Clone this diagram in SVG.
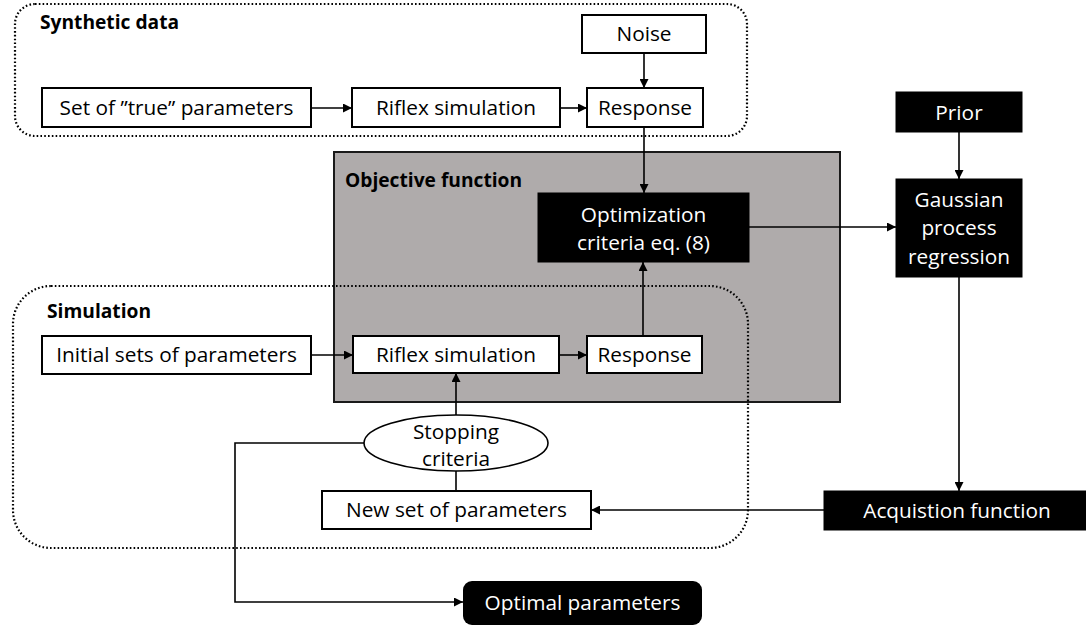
<svg xmlns="http://www.w3.org/2000/svg" width="1086" height="628" viewBox="0 0 1086 628">
  <defs>
    <marker id="arrow" viewBox="0 0 10 10" refX="10" refY="5" markerWidth="9" markerHeight="9" markerUnits="userSpaceOnUse" orient="auto">
      <path d="M0,0 L10,5 L0,10 z" fill="#000"/>
    </marker>
    <style>
      .txt { font-family: "Open Sans", "Liberation Sans", sans-serif; font-size: 20.8px; fill: #000; text-anchor: middle; }
      .inv { fill: #fff; }
      .title { font-family: "Open Sans", "Liberation Sans", sans-serif; font-size: 19.2px; font-weight: bold; fill: #000; }
      .box { fill: #fff; stroke: #000; stroke-width: 2; }
      .dark { fill: #000; stroke: #000; stroke-width: 1; }
      .group { fill: none; stroke: #000; stroke-width: 2.2; stroke-dasharray: 1.6 2.2; }
      .link { fill: none; stroke: #000; stroke-width: 1.6; }
      .arr { marker-end: url(#arrow); }
    </style>
  </defs>

  <rect width="1086" height="628" fill="#fff"/>

  <!-- objective function container -->
  <g id="objective-function">
    <rect x="334" y="152" width="506" height="250" fill="#AFABAB" stroke="#1a1a1a" stroke-width="2"/>
    <text class="title" x="345" y="187">Objective function</text>
  </g>

  <!-- dotted grouping frames -->
  <g id="synthetic-data">
    <rect class="group" x="15" y="4" width="732" height="132" rx="20" ry="20"/>
    <text class="title" x="40" y="29">Synthetic data</text>
  </g>
  <g id="simulation">
    <rect class="group" x="13" y="286" width="735" height="262" rx="38" ry="38"/>
    <text class="title" x="47" y="318">Simulation</text>
  </g>

  <!-- connectors -->
  <g id="connectors">
    <line class="link arr" x1="311" y1="108" x2="352" y2="108"/>
    <line class="link arr" x1="560" y1="108" x2="587" y2="108"/>
    <line class="link arr" x1="644" y1="53" x2="644" y2="88"/>
    <line class="link arr" x1="644" y1="127" x2="644" y2="193"/>
    <line class="link arr" x1="749" y1="227" x2="896" y2="227"/>
    <line class="link arr" x1="959" y1="132" x2="959" y2="179"/>
    <line class="link arr" x1="959" y1="277" x2="959" y2="491"/>
    <line class="link arr" x1="824" y1="510" x2="591" y2="510"/>
    <line class="link arr" x1="311" y1="355" x2="353" y2="355"/>
    <line class="link arr" x1="559" y1="355" x2="587" y2="355"/>
    <line class="link arr" x1="643" y1="336" x2="643" y2="262"/>
    <line class="link arr" x1="456" y1="415" x2="456" y2="373"/>
    <line class="link" x1="456" y1="471" x2="456" y2="491"/>
    <polyline class="link arr" points="364,443 235,443 235,602 463,602"/>
  </g>

  <!-- synthetic data chain -->
  <g id="true-parameters">
    <rect class="box" x="42" y="88" width="269" height="39"/>
    <text class="txt" x="176.5" y="115">Set of ”true” parameters</text>
  </g>
  <g id="riflex-synthetic">
    <rect class="box" x="352" y="88" width="208" height="39"/>
    <text class="txt" x="456" y="115">Riflex simulation</text>
  </g>
  <g id="noise">
    <rect class="box" x="582" y="15" width="124" height="38"/>
    <text class="txt" x="644" y="41">Noise</text>
  </g>
  <g id="response-synthetic">
    <rect class="box" x="587" y="88" width="116" height="39"/>
    <text class="txt" x="645" y="115">Response</text>
  </g>

  <!-- optimisation and surrogate model -->
  <g id="optimization-criteria">
    <rect class="dark" x="538" y="193" width="211" height="69"/>
    <text class="txt inv" x="643.5" y="222">Optimization</text>
    <text class="txt inv" x="643.5" y="250">criteria eq. (8)</text>
  </g>
  <g id="prior">
    <rect class="dark" x="896" y="92" width="126" height="40"/>
    <text class="txt inv" x="959" y="120">Prior</text>
  </g>
  <g id="gaussian-process">
    <rect class="dark" x="896" y="179" width="126" height="98"/>
    <text class="txt inv" x="959" y="207">Gaussian</text>
    <text class="txt inv" x="959" y="235">process</text>
    <text class="txt inv" x="959" y="264">regression</text>
  </g>
  <g id="acquisition-function">
    <rect class="dark" x="824" y="491" width="262" height="39"/>
    <text class="txt inv" x="957" y="518">Acquistion function</text>
  </g>

  <!-- simulation loop -->
  <g id="initial-parameters">
    <rect class="box" x="42" y="336" width="269" height="38"/>
    <text class="txt" x="176.5" y="362">Initial sets of parameters</text>
  </g>
  <g id="riflex-simulation">
    <rect class="box" x="353" y="336" width="206" height="37"/>
    <text class="txt" x="456" y="362">Riflex simulation</text>
  </g>
  <g id="response-simulation">
    <rect class="box" x="587" y="336" width="115" height="37"/>
    <text class="txt" x="644.5" y="362">Response</text>
  </g>
  <g id="stopping-criteria">
    <ellipse cx="456" cy="443" rx="92" ry="28" fill="#fff" stroke="#000" stroke-width="1.6"/>
    <text class="txt" x="456" y="439">Stopping</text>
    <text class="txt" x="456" y="466">criteria</text>
  </g>
  <g id="new-parameters">
    <rect class="box" x="322" y="491" width="269" height="38"/>
    <text class="txt" x="456.5" y="517">New set of parameters</text>
  </g>
  <g id="optimal-parameters">
    <rect x="463" y="581" width="239" height="44" rx="9" ry="9" fill="#000"/>
    <text class="txt inv" x="582.5" y="610">Optimal parameters</text>
  </g>
</svg>
